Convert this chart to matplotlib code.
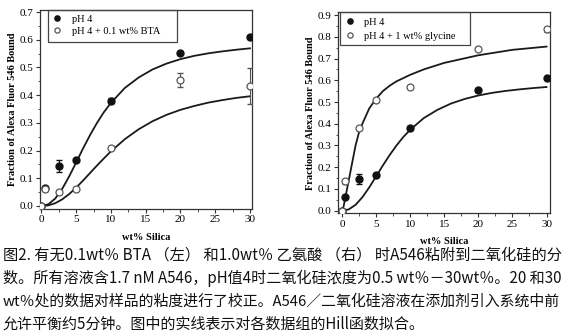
import numpy as np
import matplotlib
matplotlib.use('Agg')
import matplotlib.pyplot as plt
from matplotlib.ticker import MultipleLocator
from matplotlib.patches import Rectangle

# measured data (wt% silica vs fraction bound)
silica = [0, 0.5, 2.5, 5, 10, 20, 30]
ph4 = [0.0, 0.065, 0.145, 0.165, 0.38, 0.553, 0.61]
ph4_err = [0, 0.006, 0.022, 0.008, 0.008, 0.006, 0.006]
bta = [0.0, 0.06, 0.05, 0.062, 0.21, 0.455, 0.432]
bta_err = [0, 0.006, 0.006, 0.008, 0.006, 0.025, 0.065]
gly = [0.0, 0.135, 0.38, 0.51, 0.568, 0.745, 0.835]
gly_err = [0, 0.01, 0.008, 0.008, 0.006, 0.008, 0.012]

# Hill fit curves
fit_x = [0, 1, 2, 3, 4, 5, 6, 7, 8, 9, 10, 12, 14, 16, 18, 20, 22, 24, 26, 28, 30]
fit_ph4 = [0, 0.006, 0.027, 0.062, 0.107, 0.157, 0.208, 0.256, 0.300, 0.339, 0.372,
           0.426, 0.464, 0.493, 0.514, 0.530, 0.542, 0.551, 0.558, 0.564, 0.569]
fit_bta = [0, 0.002, 0.010, 0.024, 0.043, 0.066, 0.092, 0.119, 0.146, 0.172, 0.197,
           0.241, 0.277, 0.306, 0.329, 0.347, 0.361, 0.373, 0.382, 0.390, 0.396]
fit_gly_x = [0, 0.25, 0.5, 0.75, 1, 1.5, 2, 2.5, 3, 4, 5, 6, 7, 8, 10, 12, 15, 20, 25, 30]
fit_gly = [0, 0.02, 0.06, 0.10, 0.14, 0.22, 0.30, 0.36, 0.40, 0.47, 0.515, 0.55, 0.575,
           0.595, 0.625, 0.65, 0.68, 0.715, 0.74, 0.755]

caption = [
    "图2. 有无0.1wt％ BTA （左） 和1.0wt％ 乙氨酸 （右） 时A546粘附到二氧化硅的分",
    "数。所有溶液含1.7 nM A546，pH值4时二氧化硅浓度为0.5 wt％－30wt％。20 和30",
    "wt％处的数据对样品的粘度进行了校正。A546／二氧化硅溶液在添加剂引入系统中前",
    "允许平衡约5分钟。图中的实线表示对各数据组的Hill函数拟合。",
]

plt.rcParams['font.family'] = ['Liberation Serif', 'DejaVu Serif']
cjk = ['Noto Sans CJK SC', 'DejaVu Sans']

fig = plt.figure(figsize=(5.66, 3.32), dpi=100)


def panel(rect, xlim, ylim, ymax_tick, other, other_err, other_fit_x, other_fit,
          other_label, box, leg_kw):
    ax = fig.add_axes(rect)
    ax.plot(fit_x, fit_ph4, color='#1a1a1a', lw=1.3)
    ax.plot(other_fit_x, other_fit, color='#1a1a1a', lw=1.3)
    ax.errorbar(silica, ph4, yerr=ph4_err, fmt='none', ecolor='#111111',
                elinewidth=0.8, capsize=2, zorder=3)
    ax.errorbar(silica, other, yerr=other_err, fmt='none', ecolor='#555555',
                elinewidth=0.8, capsize=2, zorder=3)
    ax.plot(silica, ph4, 'o', color='#111111', ms=5, label='pH 4', zorder=4)
    ax.plot(silica, other, 'o', mfc='white', mec='#555555', ms=5, mew=0.9,
            label=other_label, zorder=4)
    ax.set_xlim(*xlim)
    ax.set_ylim(*ylim)
    ax.set_xticks([0, 5, 10, 15, 20, 25, 30])
    ax.set_yticks(np.round(np.arange(0, ymax_tick + 0.01, 0.1), 1))
    ax.xaxis.set_minor_locator(MultipleLocator(2.5))
    ax.yaxis.set_minor_locator(MultipleLocator(0.05))
    ax.tick_params(which='both', direction='out', labelsize=8, color='#333333',
                   top=False, right=False)
    ax.tick_params(which='major', length=3, width=0.8, pad=1.5)
    ax.tick_params(which='minor', length=1.8, width=0.6)
    for s in ax.spines.values():
        s.set_color('#333333')
        s.set_linewidth(0.9)
    ax.set_ylabel('Fraction of Alexa Fluor 546 Bound', fontsize=7.5,
                  fontweight='bold', labelpad=2)
    ax.set_xlabel('wt% Silica', fontsize=7.5, fontweight='bold', labelpad=6)
    ax.legend(loc='upper left', bbox_to_anchor=(box[0], box[1] + box[3]),
              fontsize=7.5, frameon=False, handlelength=1.0, borderaxespad=0,
              markerscale=0.75, **leg_kw)
    ax.add_patch(Rectangle((box[0], box[1]), box[2], box[3], transform=ax.transAxes,
                           fill=False, edgecolor='#444444', lw=0.9, clip_on=False,
                           zorder=5))
    return ax


a = panel([0.0707, 0.3705, 0.3746, 0.599], (-0.2, 30.3), (-0.011, 0.707), 0.7,
          bta, bta_err, fit_x, fit_bta, 'pH 4 + 0.1 wt% BTA',
          (0.038, 0.839, 0.608, 0.161),
          dict(borderpad=0.4, handletextpad=0.9, labelspacing=0.3))
b = panel([0.597, 0.3575, 0.3746, 0.605], (-0.59, 30.5), (-0.012, 0.912), 0.9,
          gly, gly_err, fit_gly_x, fit_gly, 'pH 4 + 1 wt% glycine',
          (0.009, 0.836, 0.613, 0.164),
          dict(borderpad=0.5, handletextpad=0.8, labelspacing=0.45))

# caption lines, sized so the full lines span the figure width like the original
renderer = fig.canvas.get_renderer()
target = 557
sizes = []
texts = []
for i, line in enumerate(caption):
    t = fig.text(3 / 566, 1 - (255 + 23.2 * i) / 332, line, fontsize=11,
                 family=cjk, va='center', ha='left', color='#111111')
    texts.append(t)
for i, t in enumerate(texts[:3]):
    w = t.get_window_extent(renderer).width
    t.set_fontsize(11 * target / w)
    sizes.append(11 * target / w)
texts[3].set_fontsize(np.mean(sizes))

fig.savefig('out.png', dpi=100)
